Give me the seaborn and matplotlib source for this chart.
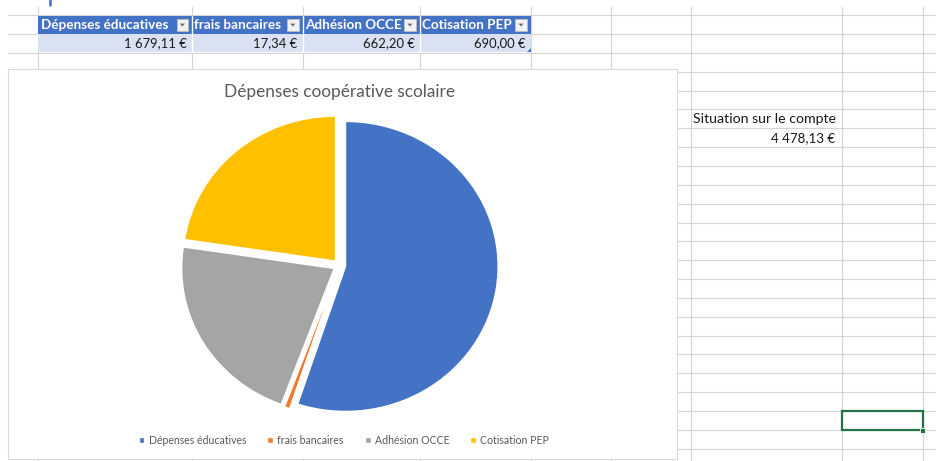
import matplotlib
matplotlib.use("Agg")
import matplotlib.pyplot as plt
from matplotlib.patches import Rectangle, Polygon
import seaborn as sns

categories = ["Dépenses éducatives", "frais bancaires", "Adhésion OCCE", "Cotisation PEP"]
amounts = [1679.11, 17.34, 662.20, 690.00]
chart_title = "Dépenses coopérative scolaire"
balance_label = "Situation sur le compte"
balance = 4478.13

colors = sns.color_palette(["#4472C4", "#ED7D31", "#A5A5A5", "#FFC000"])

sns.set_theme(style="white")
plt.rcParams["font.family"] = ["Lato", "DejaVu Sans"]

W, H = 936, 461
fig = plt.figure(figsize=(W / 100, H / 100), dpi=100)
fig.patch.set_facecolor("white")


def euro(v):
    s = f"{v:,.2f}".replace(",", " ").replace(".", ",")
    return s + " €"


# worksheet background, in pixel coordinates
bg = fig.add_axes([0, 0, 1, 1])
bg.set_xlim(0, W)
bg.set_ylim(H, 0)
bg.axis("off")

grid = "#D4D4D4"
row0, row_h = 15.3, 18.84
cols = [38.3, 192, 302.5, 419.6, 530.7, 610.7, 690.7, 842.3, 922.7]
for k in range(25):
    y = row0 + k * row_h
    bg.plot([8, W], [y, y], color=grid, lw=0.8, zorder=1)
for x in cols:
    bg.plot([x, x], [7, H], color=grid, lw=0.8, zorder=1)

# the table
hdr_top, hdr_bot, dat_bot = 15.7, 33.8, 52.4
for i, name in enumerate(categories):
    x0, x1 = cols[i], cols[i + 1]
    bg.add_patch(Rectangle((x0, hdr_top), x1 - x0, hdr_bot - hdr_top,
                           fc="#4472C4", ec="none", zorder=3))
    bg.add_patch(Rectangle((x0, hdr_bot), x1 - x0, dat_bot - hdr_bot,
                           fc="#D9E1F2", ec="none", zorder=3))
    bg.text(x0 + 2.5, (hdr_top + hdr_bot) / 2 + 0.5, name, color="white",
            fontweight="bold", fontsize=9.7, va="center", ha="left", zorder=5)
    # filter button
    bx = x1 - 15.5
    bg.add_patch(Rectangle((bx, 19.3), 11.7, 11.4, fc="#F2F2F2", ec="#BFBFBF",
                           lw=0.6, zorder=4))
    bg.add_patch(Polygon([[bx + 3.3, 23.6], [bx + 8.4, 23.6], [bx + 5.85, 26.6]],
                         closed=True, fc="#6E6E6E", ec="none", zorder=5))
    bg.text(x1 - 5, (hdr_bot + dat_bot) / 2 + 0.5, euro(amounts[i]), color="#1A1A1A",
            fontsize=9.4, va="center", ha="right", zorder=5)
for x in cols[1:4]:
    bg.plot([x, x], [hdr_top, dat_bot], color="white", lw=1.0, zorder=4)
bg.add_patch(Polygon([[527, 52], [531, 52], [531, 48]], closed=True,
                     fc="#4472C4", ec="none", zorder=5))
bg.plot([50, 50], [0, 5], color="#4472C4", lw=1.8, zorder=5)

# chart area
bg.add_patch(Rectangle((8, 69.3), 677.3 - 8, 458.8 - 69.3, fc="white",
                       ec="#D9D9D9", lw=0.8, zorder=3))

# balance on the right
bg.text(693, 119, balance_label, color="#1A1A1A", fontsize=10.2,
        ha="left", va="center", zorder=5)
bg.text(835.5, 138, euro(balance), color="#1A1A1A", fontsize=9.6,
        ha="right", va="center", zorder=5)

# selected cell
bg.add_patch(Rectangle((842, 410.5), 80.5, 19.3, fc="none", ec="#217346",
                       lw=1.6, zorder=5))
bg.add_patch(Rectangle((920, 427.5), 5, 5, fc="#217346", ec="white",
                       lw=0.6, zorder=6))

# the pie
cx, cy, rx, ry = 339.5, 265.5, 152.6, 145.0
lim = 1.3
ax = fig.add_axes([(cx - lim * rx) / W, (H - cy - lim * ry) / H,
                   2 * lim * rx / W, 2 * lim * ry / H])
wedges, _ = ax.pie(amounts, colors=colors, startangle=90, counterclock=False,
                   explode=[0.04] * len(amounts), radius=1)
ax.set_aspect("auto")
ax.set_xlim(-lim, lim)
ax.set_ylim(-lim, lim)
ax.axis("off")

fig.text(340 / W, (H - 92) / H, chart_title, ha="center", va="center",
         fontsize=12.4, color="#595959")

fig.legend(wedges, categories, loc="center", bbox_to_anchor=(344 / W, (H - 440) / H),
           ncol=4, frameon=False, fontsize=7.6, handlelength=0.55, handleheight=0.55,
           handletextpad=0.4, columnspacing=2.0, labelcolor="#595959")

fig.savefig("out.png", dpi=100)
